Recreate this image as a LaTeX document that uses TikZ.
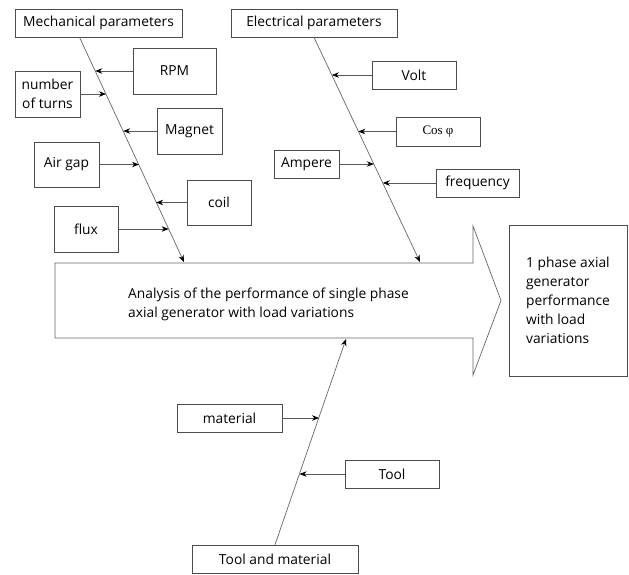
\documentclass[tikz,border=0pt]{standalone}
\usepackage{fontspec}
\setmainfont{Open Sans}
\newfontfamily\phifont{Liberation Serif}
\usetikzlibrary{calc, arrows.meta}

\begin{document}
\begin{tikzpicture}[x = 1pt, y = -1pt, font = \fontsize{13.8}{19}\selectfont,
    box/.style = {draw = black!70, line width = 0.6pt, inner sep = 0pt, align = center},
    bone/.style = {draw = black!60, line width = 0.7pt, -{Stealth[length = 7pt, width = 5.5pt, color = black]}},
    twig/.style = {draw = black!65, line width = 0.7pt, -{Stealth[length = 7pt, width = 5.5pt, color = black]}}]
    \useasboundingbox (0, 0) rectangle (629, 574);

    % heads of the bones
    \node[box, minimum width = 167, minimum height = 28] (mech) at (98.5, 23) {Mechanical parameters};
    \node[box, minimum width = 166, minimum height = 28] (elec) at (314, 23) {Electrical parameters};
    \node[box, minimum width = 166, minimum height = 28] (toolmat) at (275, 559) {Tool and material};

    % main arrow
    \draw[draw = black!60, line width = 0.7pt] (55, 263) -- (473, 263) -- (473, 226) -- (501, 300.5)
        -- (473, 375) -- (473, 338) -- (55, 338) -- cycle;
    \node[align = left] (effect) at (268.5, 304) {Analysis of the performance of single phase\\axial generator with load variations};
    \node[box, align = left, minimum width = 118, minimum height = 151] (result) at (568, 300.5)
        {1 phase axial\\generator\\performance\\with load\\variations};

    % bones
    \coordinate (mtip) at (184, 262);
    \coordinate (etip) at (420, 262);
    \coordinate (ttip) at (346, 339);
    \draw[bone] (mech.217) -- (mtip);
    \draw[bone] (elec.south) -- (etip);
    \draw[bone] (toolmat.north) -- (ttip);

    % mechanical causes
    \node[box, minimum width = 83, minimum height = 46] (rpm) at (174.5, 71) {RPM};
    \node[box, minimum width = 65, minimum height = 46] (turns) at (47.5, 94) {number\\of turns};
    \node[box, minimum width = 65, minimum height = 46] (magnet) at (189.5, 131) {Magnet};
    \node[box, minimum width = 65, minimum height = 45] (airgap) at (66.5, 164.5) {Air gap};
    \node[box, minimum width = 64, minimum height = 45] (coil) at (219, 202.5) {coil};
    \node[box, minimum width = 64, minimum height = 46] (flux) at (86, 229) {flux};

    \coordinate (m1) at ($(mech.217)!0.151!(mtip)$);
    \coordinate (m2) at ($(mech.217)!0.253!(mtip)$);
    \coordinate (m3) at ($(mech.217)!0.418!(mtip)$);
    \coordinate (m4) at ($(mech.217)!0.569!(mtip)$);
    \coordinate (m5) at ($(mech.217)!0.733!(mtip)$);
    \coordinate (m6) at ($(mech.217)!0.853!(mtip)$);
    \draw[twig] (rpm.west) -- (rpm.west -| m1);
    \draw[twig] (turns.east) -- (turns.east -| m2);
    \draw[twig] (magnet.west) -- (magnet.west -| m3);
    \draw[twig] (airgap.east) -- (airgap.east -| m4);
    \draw[twig] (coil.west) -- (coil.west -| m5);
    \draw[twig] (flux.east) -- (flux.east -| m6);

    % electrical causes
    \node[box, minimum width = 84, minimum height = 28] (volt) at (414, 75) {Volt};
    \node[box, minimum width = 84, minimum height = 29, font = \phifont\fontsize{13}{15}\selectfont] (cosphi) at (438, 131.5) {Cos φ};
    \node[box, minimum width = 65, minimum height = 28] (ampere) at (306.5, 164) {Ampere};
    \node[box, minimum width = 83, minimum height = 28] (freq) at (477.5, 183) {frequency};

    \coordinate (e1) at ($(elec.south)!0.169!(etip)$);
    \coordinate (e2) at ($(elec.south)!0.418!(etip)$);
    \coordinate (e3) at ($(elec.south)!0.564!(etip)$);
    \coordinate (e4) at ($(elec.south)!0.649!(etip)$);
    \draw[twig] (volt.west) -- (volt.west -| e1);
    \draw[twig] (cosphi.west) -- (cosphi.west -| e2);
    \draw[twig] (ampere.east) -- (ampere.east -| e3);
    \draw[twig] (freq.west) -- (freq.west -| e4);

    % tool and material causes
    \node[box, minimum width = 105, minimum height = 28] (material) at (229.5, 418) {material};
    \node[box, minimum width = 94, minimum height = 28] (tool) at (392, 474) {Tool};

    \coordinate (t1) at ($(toolmat.north)!0.620!(ttip)$);
    \coordinate (t2) at ($(toolmat.north)!0.346!(ttip)$);
    \draw[twig] (material.east) -- (material.east -| t1);
    \draw[twig] (tool.west) -- (tool.west -| t2);

  \end{tikzpicture}
\end{document}
